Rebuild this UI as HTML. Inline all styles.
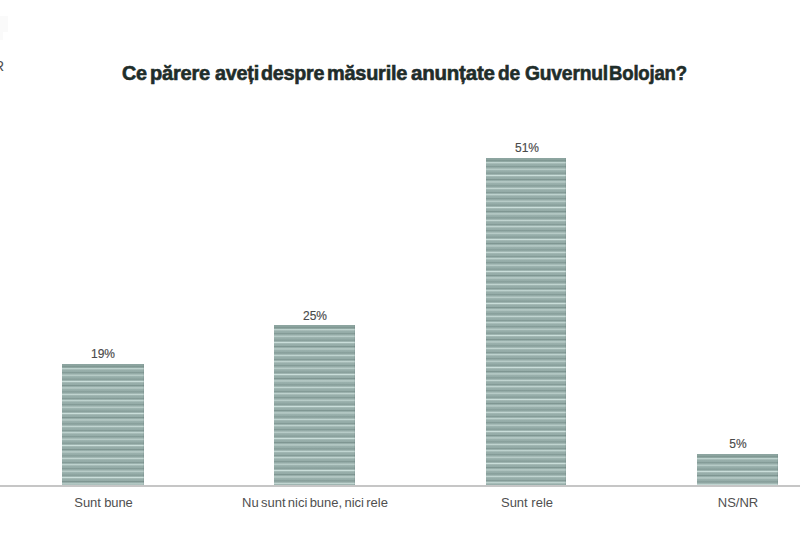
<!DOCTYPE html>
<html>
<head>
<meta charset="utf-8">
<style>
html,body{margin:0;padding:0;background:#fff;}
body{width:800px;height:534px;position:relative;overflow:hidden;font-family:"Liberation Sans",sans-serif;}
.title{position:absolute;left:0;top:0;}
.w{position:absolute;top:62px;font-size:19.5px;font-weight:bold;color:#1f2d2a;-webkit-text-stroke:0.6px #1f2d2a;letter-spacing:-0.2px;white-space:nowrap;transform-origin:0 0;line-height:normal;}
.bar{position:absolute;width:81px;bottom:48px;box-sizing:border-box;box-shadow:inset 0 4px 0 rgba(120,145,140,0.3),inset -1px 0 0 rgba(60,80,75,0.1);
  background:repeating-linear-gradient(to bottom,#98afab 0px,#94aba7 1.5px,#7f9692 2.3px,#96ada9 3.2px,#a6bbb7 4.1px,#cadeda 4.7px,#a8bdb9 5.4px,#98afab 6.4px);}
.val{position:absolute;font-size:12px;color:#4a4a4a;-webkit-text-stroke:0.15px #4a4a4a;text-align:center;width:82px;}
.lab{position:absolute;font-size:13px;color:#4f4f4f;text-align:center;width:212px;top:495px;white-space:nowrap;}
.axis{position:absolute;left:0;top:485.3px;width:800px;height:1.4px;background:#c6c6c6;}
.r{position:absolute;left:-6px;top:57.8px;font-size:14px;color:#505050;line-height:normal;}
.box{position:absolute;left:0;top:16px;width:8px;height:16px;background:#fafafa;}
.box2{position:absolute;left:0;top:32px;width:3px;height:8px;background:#fafafa;}
</style>
</head>
<body>
<div class="box"></div><div class="box2"></div>
<div class="r">R</div>
<div class="title">
<span class="w" style="left:122.49px;transform:scaleX(1.0105)">Ce</span>
<span class="w" style="left:150.22px;transform:scaleX(1.0262)">părere</span>
<span class="w" style="left:214.75px;transform:scaleX(1.0118)">aveți</span>
<span class="w" style="left:261.00px;transform:scaleX(1.0081)">despre</span>
<span class="w" style="left:327.23px;transform:scaleX(1.0194)">măsurile</span>
<span class="w" style="left:410.74px;transform:scaleX(1.0505)">anunțate</span>
<span class="w" style="left:497.91px;transform:scaleX(0.9816)">de</span>
<span class="w" style="left:524.51px;transform:scaleX(0.9879)">Guvernul</span>
<span class="w" style="left:609.30px;transform:scaleX(0.9526)">Bolojan?</span>
</div>

<div class="val" style="left:62px;top:347px;">19%</div>
<div class="bar" style="left:62px;top:364px;width:81.5px"></div>
<div class="val" style="left:274px;top:309px;">25%</div>
<div class="bar" style="left:273.8px;top:325.2px;"></div>
<div class="val" style="left:486px;top:141px;">51%</div>
<div class="bar" style="left:485.9px;top:158.2px;width:80px"></div>
<div class="val" style="left:697px;top:437.3px;">5%</div>
<div class="bar" style="left:696.9px;top:453.9px;"></div>

<div class="axis"></div>

<div class="lab" style="left:-2.5px;letter-spacing:-0.1px">Sunt bune</div>
<div class="lab" style="left:209px;word-spacing:-1.3px">Nu sunt nici bune, nici rele</div>
<div class="lab" style="left:421px;">Sunt rele</div>
<div class="lab" style="left:632px;">NS/NR</div>
</body>
</html>
